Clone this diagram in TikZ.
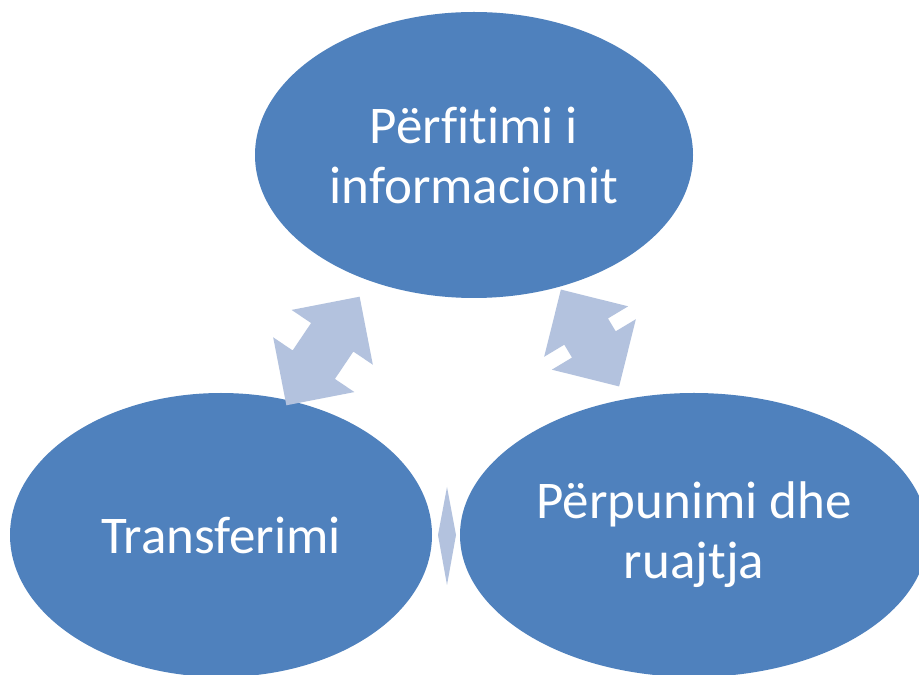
\documentclass[tikz,border=0pt]{standalone}
\usepackage{fontspec}
\setmainfont{Carlito}[Ligatures={NoCommon}]
\usetikzlibrary{shapes.geometric}
\definecolor{ellblue}{RGB}{79,129,189}
\definecolor{arrblue}{RGB}{179,194,222}
\tikzset{
  bubble/.style={ellipse, fill=ellblue, draw=none, inner sep=0pt, text=white,
    align=center, font=\fontsize{53}{60}\selectfont},
  blockarrow/.style={fill=arrblue, draw=none}
}
\newcommand{\dblarrow}[4]{% cx, cy, angle, length
  \begin{scope}[shift={(#1,#2)}, rotate=#3]
    \pgfmathsetmacro{\hl}{#4/2}
    \pgfmathsetmacro{\hb}{#4/2-49}
    \fill[blockarrow] (\hl,0) -- (\hb,49) -- (\hb,25.5) -- (-\hb,25.5) -- (-\hb,49)
      -- (-\hl,0) -- (-\hb,-49) -- (-\hb,-25.5) -- (\hb,-25.5) -- (\hb,-49) -- cycle;
  \end{scope}}
\begin{document}
\begin{tikzpicture}[x=1pt,y=1pt]
\useasboundingbox (0,0) rectangle (919,675);
\fill[white] (0,0) rectangle (919,675);
\begin{scope}
\clip (0,0) rectangle (919,675);
\node[bubble, minimum width=438pt, minimum height=286pt] (top) at (474,520) {Përfitimi i\\informacionit};
\node[bubble, minimum width=422pt, minimum height=284pt] (left) at (221,140) {Transferimi};
\node[bubble, minimum width=468pt, minimum height=284pt] (right) at (694,140) {Përpunimi dhe\\ruajtja};
\end{scope}
\dblarrow{323}{324}{56}{131}
\dblarrow{590}{337}{-59}{113}
\coordinate (dt) at (447,188);
\coordinate (db) at (447,90);
\coordinate (dl) at (438,140);
\coordinate (dr) at (456,140);
\fill[blockarrow] (dt) -- (dr) -- (db) -- (dl) -- cycle;
\end{tikzpicture}
\end{document}
